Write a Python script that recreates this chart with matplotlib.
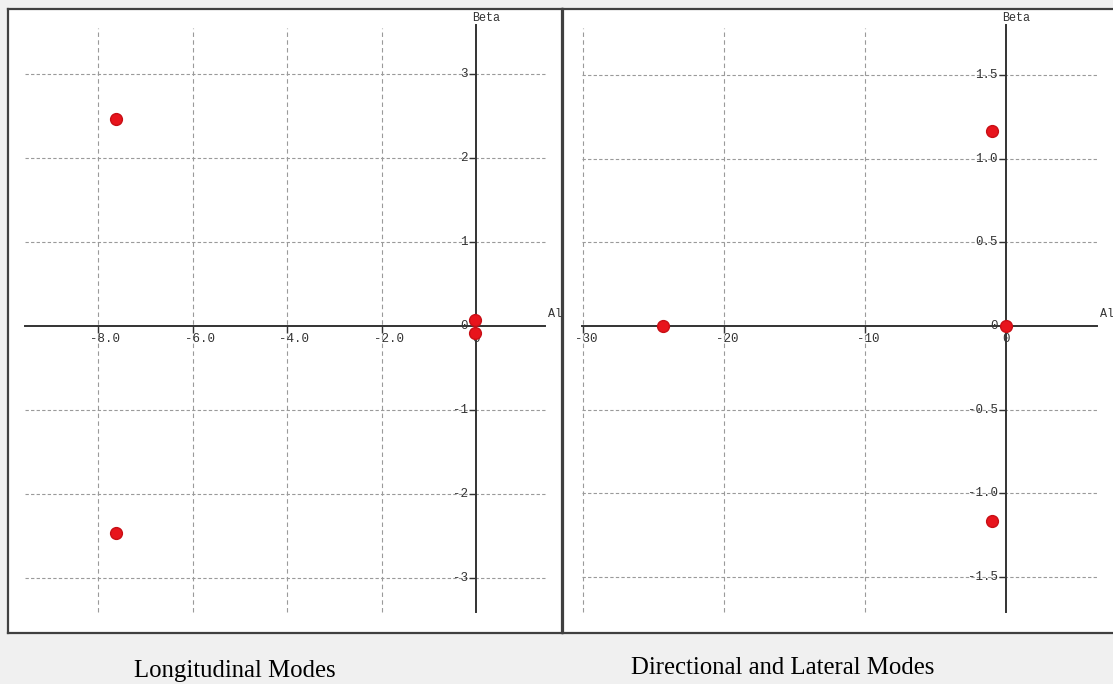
import matplotlib
matplotlib.use("Agg")
import matplotlib.pyplot as plt
from matplotlib.transforms import offset_copy

# eigenvalues (real part = Alpha, imaginary part = Beta)
long_re = [-7.63, -7.63, -0.02, -0.02]
long_im = [2.47, -2.47, 0.07, -0.08]
lat_re = [-24.3, -1.0, -1.0, -0.03]
lat_im = [0.0, 1.17, -1.17, 0.0]

long_xticks = [-8, -6, -4, -2]
long_xlabels = ["-8.0", "-6.0", "-4.0", "-2.0"]
long_yticks = [3, 2, 1, -1, -2, -3]
long_ylabels = ["3", "2", "1", "-1", "-2", "-3"]

lat_xticks = [-30, -20, -10]
lat_xlabels = ["-30", "-20", "-10"]
lat_yticks = [1.5, 1.0, 0.5, -0.5, -1.0, -1.5]
lat_ylabels = ["1.5", "1.0", "0.5", "-0.5", "-1.0", "-1.5"]

titles = ["Longitudinal Modes", "Directional and Lateral Modes"]

W, H = 1113, 684
fig = plt.figure(figsize=(W / 100, H / 100), dpi=100, facecolor="#f0f0f0")

mono = "Liberation Mono"
txtc = "#333333"
gridc = "#9a9a9a"


def panel(rect, xlim, ylim, xt, xl, yt, yl, re, im, hspan, vspan):
    l, t, r, b = rect
    ax = fig.add_axes([l / W, 1 - b / H, (r - l) / W, (b - t) / H])
    ax.set_facecolor("white")
    ax.set_xlim(xlim)
    ax.set_ylim(ylim)
    ax.set_xticks([])
    ax.set_yticks([])
    for s in ax.spines.values():
        s.set_color("#404040")
        s.set_linewidth(1.6)

    # grid
    ax.vlines(xt, vspan[0], vspan[1], colors=gridc, linestyles=(0, (4, 3)), linewidth=0.8)
    ax.hlines(yt, hspan[0], hspan[1], colors=gridc, linestyles=(0, (3, 2)), linewidth=0.8)

    # axes through origin
    ax.plot([hspan[0], hspan[1]], [0, 0], color="#333333", lw=1.4, zorder=3)
    ax.plot([0, 0], [vspan[0], vspan[1] + (ylim[1] - vspan[1]) * 0.15], color="#333333", lw=1.4, zorder=3)

    # ticks and labels
    tdown = offset_copy(ax.transData, fig=fig, x=0, y=-13, units="dots")
    for v, s in zip(xt, xl):
        ax.plot([v], [0], marker=3, ms=5, mew=1, color="#333333", zorder=3)
        ax.text(v, 0, s, transform=offset_copy(tdown, fig=fig, x=-8, y=0, units="dots"),
                ha="left", va="center", family=mono, fontsize=9, color=txtc)
    ax.text(0, 0, "0", transform=tdown, ha="center", va="center", family=mono, fontsize=9, color=txtc)

    tleft = offset_copy(ax.transData, fig=fig, x=-8, y=0, units="dots")
    for v, s in zip(yt, yl):
        ax.plot([0], [v], marker=0, ms=5, mew=1, color="#333333", zorder=3)
        ax.text(0, v, s, transform=tleft, ha="right", va="center", family=mono, fontsize=9, color=txtc)
    ax.text(0, 0, "0", transform=tleft, ha="right", va="center", family=mono, fontsize=9, color=txtc)

    # axis names
    ax.text(0, ylim[1], "Beta", transform=offset_copy(ax.transData, fig=fig, x=-4, y=-9, units="dots"),
            ha="left", va="center", family=mono, fontsize=8.5, color=txtc)
    ax.text(hspan[1], 0, "Alpha", transform=offset_copy(ax.transData, fig=fig, x=3, y=12, units="dots"),
            ha="left", va="center", family=mono, fontsize=8.5, color=txtc, clip_on=True)

    ax.plot(re, im, "o", color="#e8141c", mec="#c80f15", ms=8.5, zorder=5)
    return ax


panel((8, 9, 562, 633), (-9.915, 1.822), (-3.655, 3.774),
      long_xticks, long_xlabels, long_yticks, long_ylabels, long_re, long_im,
      (-9.55, 1.46), (-3.40, 3.55))
panel((563, 9, 1125, 633), (-31.42, 8.44), (-1.838, 1.898),
      lat_xticks, lat_xlabels, lat_yticks, lat_ylabels, lat_re, lat_im,
      (-30.1, 6.45), (-1.713, 1.784))

fig.text(235 / W, 1 - 671 / H, titles[0], ha="center", va="center",
         family="Liberation Serif", fontsize=17.8, color="black")
fig.text(783 / W, 1 - 668 / H, titles[1], ha="center", va="center",
         family="Liberation Serif", fontsize=17.8, color="black")

fig.savefig("out.png", dpi=100, facecolor=fig.get_facecolor())
